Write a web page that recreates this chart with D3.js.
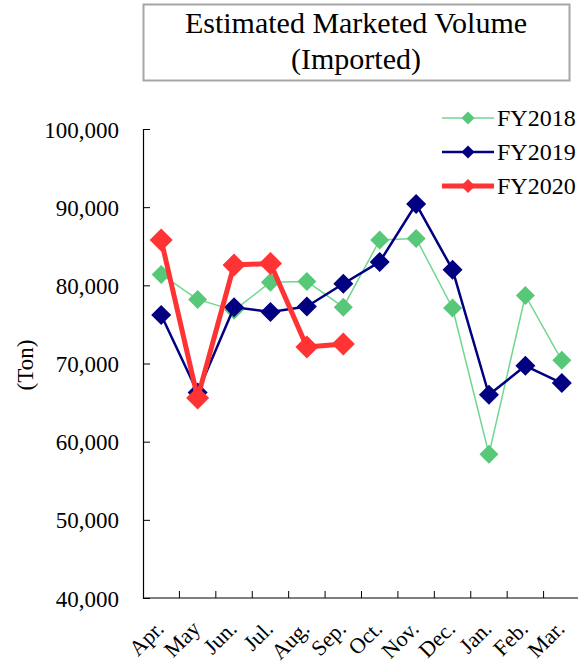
<!DOCTYPE html>
<html>
<head>
<meta charset="utf-8">
<script src="https://cdn.jsdelivr.net/npm/d3@7"></script>
<style>
  body { margin: 0; background: #fff; }
  svg text { font-family: "Liberation Serif", "Times New Roman", serif; fill: #000; }
</style>
</head>
<body>
<div id="chart"></div>
<script>
const months = ['Apr.', 'May', 'Jun.', 'Jul.', 'Aug.', 'Sep.', 'Oct.', 'Nov.', 'Dec.', 'Jan.', 'Feb.', 'Mar.']
const fy2018 = [81400, 78200, 76800, 80400, 80500, 77200, 85800, 86000, 77100, 58400, 78700, 70400]
const fy2019 = [76200, 66300, 77200, 76600, 77300, 80200, 83000, 90400, 82000, 66000, 69700, 67500]
const fy2020 = [85800, 65600, 82600, 82800, 72100, 72500]
const yTicks = [40000, 50000, 60000, 70000, 80000, 90000, 100000]
const titleLines = ['Estimated Marketed Volume', '(Imported)']

const series = [
  { name: 'FY2018', values: fy2018, color: '#6fd690', marker: '#57c878', width: 1.5, size: 9.5, legendSize: 6.5 },
  { name: 'FY2019', values: fy2019, color: '#000080', marker: '#000080', width: 2.5, size: 10, legendSize: 6.5 },
  { name: 'FY2020', values: fy2020, color: '#ff3333', marker: '#ff3333', width: 5, size: 11.5, legendSize: 7 }
]

const width = 578, height = 663
const padding = { left: 143, top: 129, right: 0, bottom: 65 }
const serif = '"Liberation Serif", "Times New Roman", serif'

const svg = d3.select('#chart').append('svg')
  .attr('width', width)
  .attr('height', height)

// title box
svg.append('rect')
  .attr('x', 143.5).attr('y', 4.5)
  .attr('width', 426).attr('height', 76)
  .attr('fill', '#fff')
  .attr('stroke', '#a6a6a6')
  .attr('stroke-width', 2)

svg.append('g').selectAll('text')
  .data(titleLines)
  .join('text')
  .attr('x', 356)
  .attr('y', (d, i) => 33 + i * 36)
  .attr('text-anchor', 'middle')
  .attr('font-size', 30)
  .text(d => d)

const x = d3.scaleBand()
  .domain(months)
  .range([padding.left, width - padding.right + 2])

const y = d3.scaleLinear()
  .domain([40000, 100000])
  .range([height - padding.bottom, padding.top])

// y axis
const yAxis = d3.axisLeft(y)
  .tickValues(yTicks)
  .tickSize(-7)
  .tickPadding(24)
  .tickFormat(d3.format(','))

const yAxisG = svg.append('g')
  .attr('transform', `translate(${padding.left},0)`)
  .call(yAxis)
yAxisG.select('.domain').attr('stroke', '#000').attr('stroke-width', 1.2)
yAxisG.selectAll('.tick line').attr('stroke', '#000')
yAxisG.selectAll('.tick text')
  .attr('font-size', 23)
  .attr('font-family', serif)
  .attr('dy', '0.35em')

// x axis
const xAxisG = svg.append('g')
  .attr('transform', `translate(0,${y(40000)})`)
xAxisG.append('line')
  .attr('x1', padding.left).attr('x2', width)
  .attr('stroke', '#000').attr('stroke-width', 1.2)
xAxisG.selectAll('.xtick')
  .data(months.slice(1))
  .join('line')
  .attr('x1', d => x(d)).attr('x2', d => x(d))
  .attr('y1', 0).attr('y2', -7)
  .attr('stroke', '#000')
xAxisG.selectAll('.xlabel')
  .data(months)
  .join('text')
  .attr('transform', d => `translate(${x(d) + x.bandwidth() / 2 + 4},${32}) rotate(-45)`)
  .attr('text-anchor', 'end')
  .attr('font-size', 22)
  .text(d => d)

// y axis title
svg.append('text')
  .attr('transform', `translate(33,365) rotate(-90)`)
  .attr('text-anchor', 'middle')
  .attr('font-size', 23)
  .text('(Ton)')

const line = d3.line()
  .x((d, i) => x(months[i]) + x.bandwidth() / 2)
  .y(d => y(d))

const diamond = s => `M0,${-s}L${s},0L0,${s}L${-s},0Z`

series.forEach(s => {
  svg.append('path')
    .datum(s.values)
    .attr('d', line)
    .attr('fill', 'none')
    .attr('stroke', s.color)
    .attr('stroke-width', s.width)
    .attr('stroke-linejoin', 'round')

  svg.append('g').selectAll('path')
    .data(s.values)
    .join('path')
    .attr('transform', (d, i) => `translate(${x(months[i]) + x.bandwidth() / 2},${y(d)})`)
    .attr('d', diamond(s.size))
    .attr('fill', s.marker)
})

// legend
const legend = svg.append('g')
series.forEach((s, i) => {
  const ly = 118 + i * 34
  legend.append('line')
    .attr('x1', 442).attr('x2', 494)
    .attr('y1', ly).attr('y2', ly)
    .attr('stroke', s.color)
    .attr('stroke-width', s.width)
  legend.append('path')
    .attr('transform', `translate(468,${ly})`)
    .attr('d', diamond(s.legendSize))
    .attr('fill', s.marker)
  legend.append('text')
    .attr('x', 497).attr('y', ly + 8)
    .attr('font-size', 24)
    .text(s.name)
})
</script>
</body>
</html>
